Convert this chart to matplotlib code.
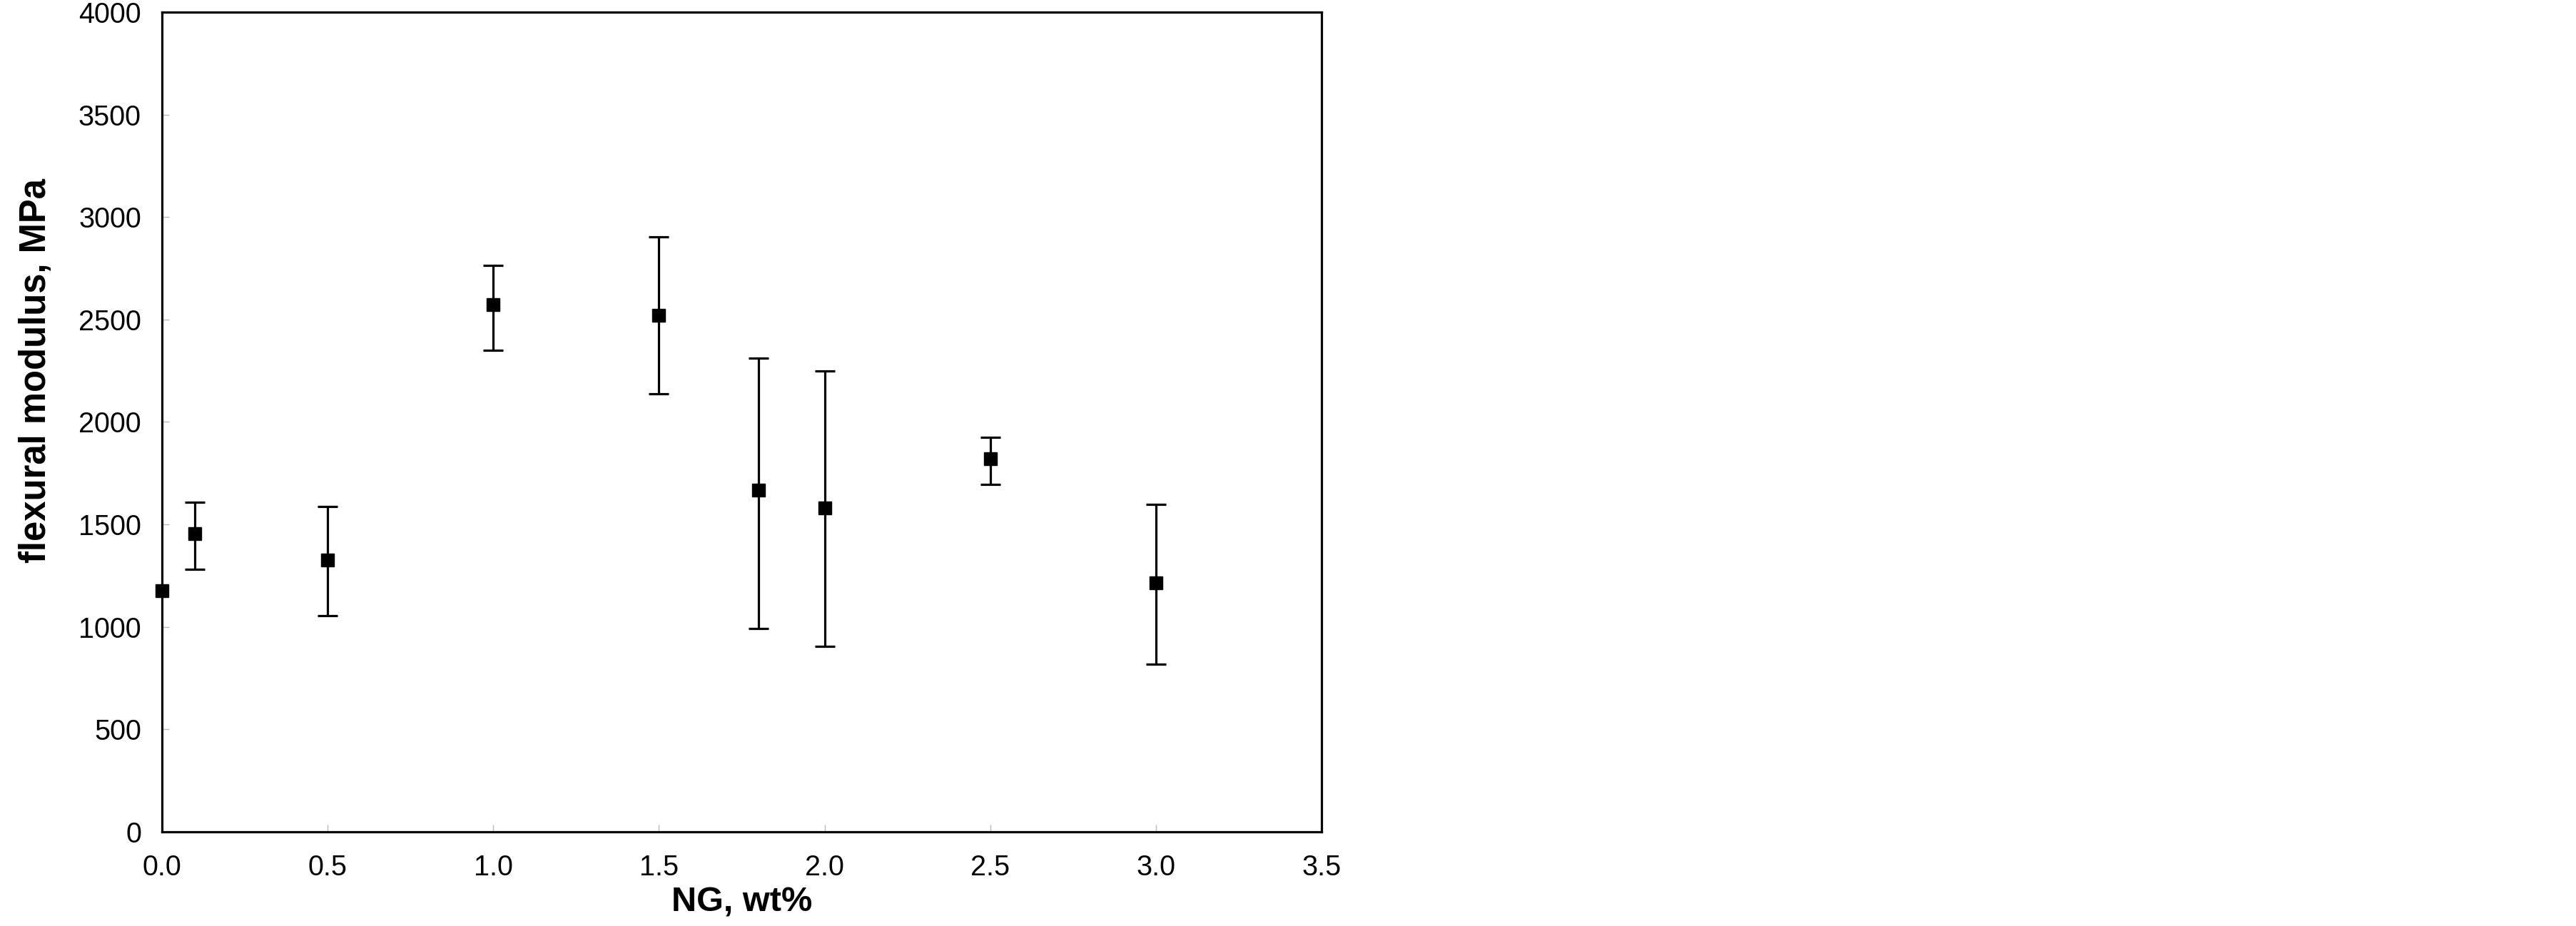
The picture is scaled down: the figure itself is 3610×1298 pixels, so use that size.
import matplotlib
matplotlib.use("Agg")
import matplotlib.pyplot as plt
import numpy as np

plt.rcParams['font.family'] = ['Liberation Sans', 'DejaVu Sans']

ng_wt = [0.0, 0.1, 0.5, 1.0, 1.5, 1.8, 2.0, 2.5, 3.0]
modulus = [1178, 1455, 1326, 2571, 2522, 1666, 1579, 1819, 1216]
err_upper_val = [1178, 1608, 1588, 2764, 2902, 2311, 2248, 1925, 1597]
err_lower_val = [1178, 1282, 1055, 2349, 2138, 991, 905, 1695, 818]
x_ticks = [0.0, 0.5, 1.0, 1.5, 2.0, 2.5, 3.0, 3.5]
y_ticks = [0, 500, 1000, 1500, 2000, 2500, 3000, 3500, 4000]

mod = np.array(modulus)
yerr = [mod - np.array(err_lower_val), np.array(err_upper_val) - mod]
has_err = (yerr[0] + yerr[1]) > 0

fig = plt.figure(figsize=(36.1, 12.98), dpi=100)
ax = fig.add_axes([0.0629, 0.1017, 0.4501, 0.8852])

ax.errorbar(ng_wt, modulus, yerr=yerr, fmt='s', color='black', ecolor='black',
            markersize=13.5, elinewidth=2.3, capsize=10, capthick=2.3,
            errorevery=list(has_err), clip_on=False, zorder=3)

ax.set_xlim(0, 3.5)
ax.set_ylim(0, 4000)
ax.set_xticks(x_ticks)
ax.set_xticklabels([f"{v:.1f}" for v in x_ticks])
ax.set_yticks(y_ticks)
ax.set_yticklabels([str(v) for v in y_ticks])

for s in ax.spines.values():
    s.set_linewidth(2.3)
    s.set_color('black')

ax.tick_params(axis='both', direction='in', length=7, width=1, color='#b8b8b8',
               labelsize=28.5, labelcolor='black')
ax.tick_params(axis='x', pad=22)
ax.tick_params(axis='y', pad=21)

ax.set_xlabel('NG, wt%', fontsize=35, fontweight='bold', labelpad=6)
ax.set_ylabel('flexural modulus, MPa', fontsize=36.5, fontweight='bold')
ax.yaxis.set_label_coords(-0.0935, 0.563)

fig.savefig('out.png', dpi=100)
